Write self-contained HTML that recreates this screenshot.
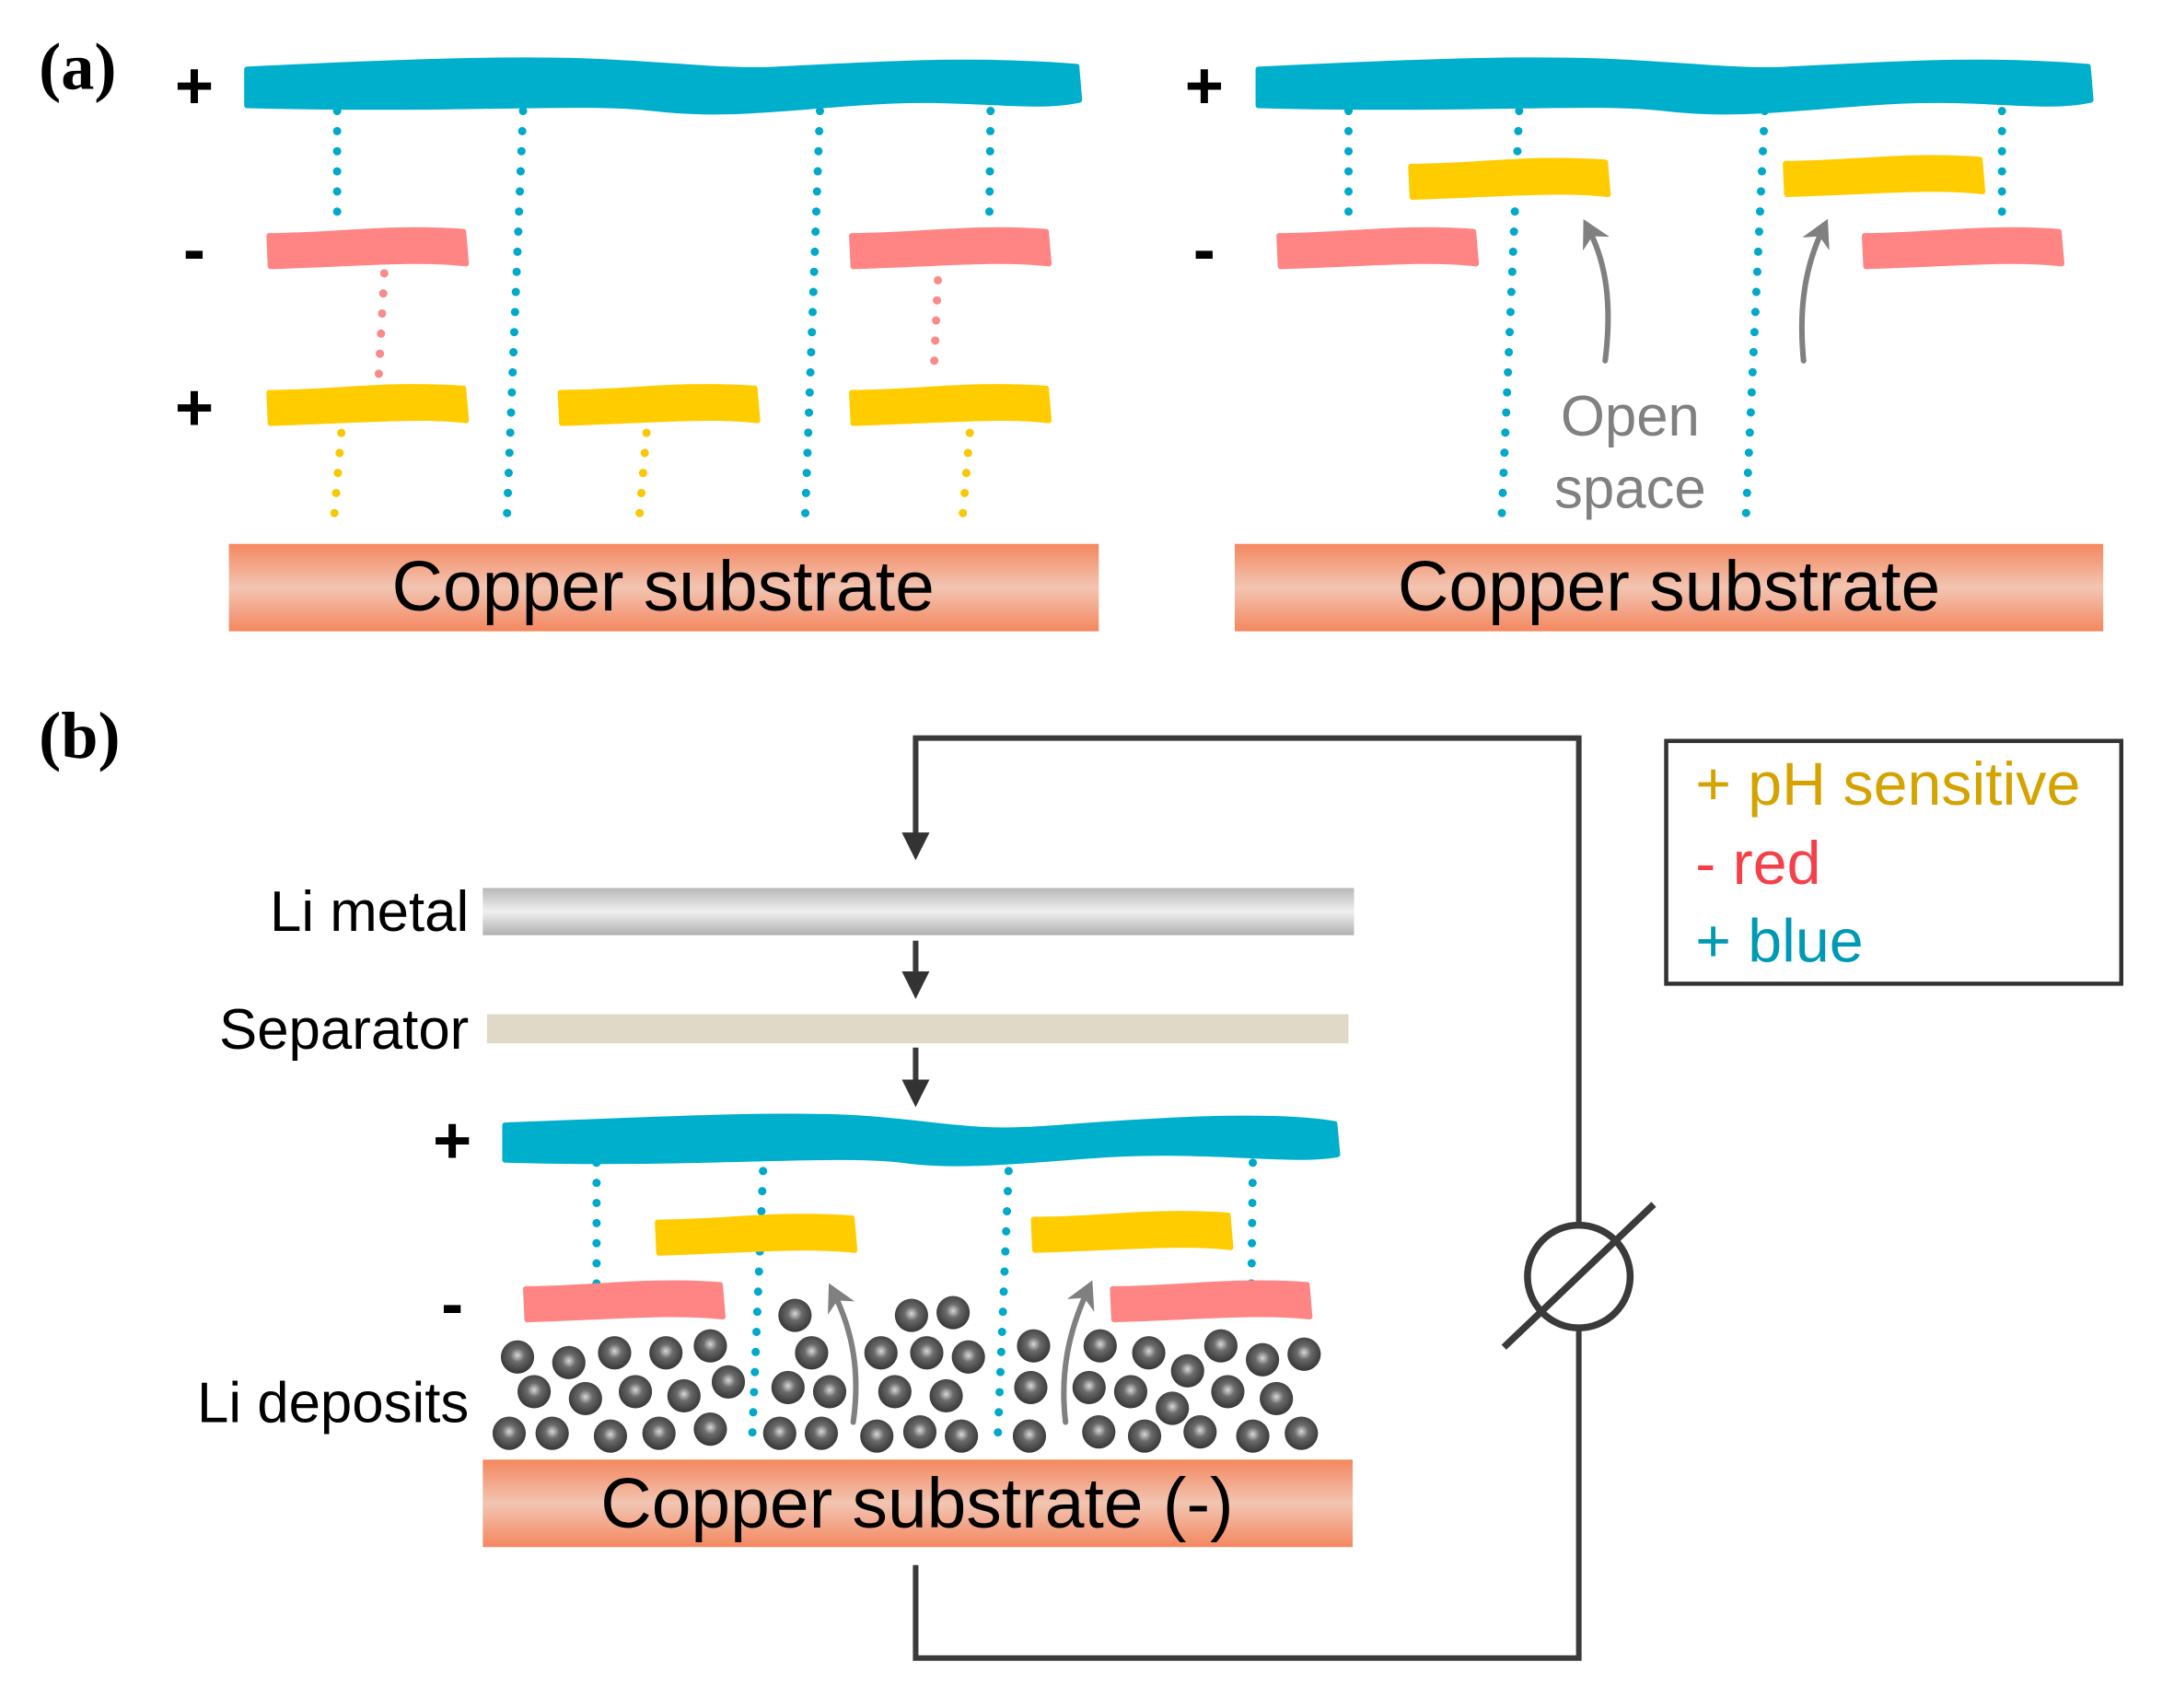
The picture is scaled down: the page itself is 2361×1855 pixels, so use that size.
<!DOCTYPE html>
<html><head><meta charset="utf-8"><style>
html,body{margin:0;padding:0;background:#fff}
svg{display:block}
text{font-family:"Liberation Sans",sans-serif}
</style></head><body>
<svg width="2361" height="1855" viewBox="0 0 1567 1231" preserveAspectRatio="none" xmlns="http://www.w3.org/2000/svg">
<defs>
<linearGradient id="cu" x1="0" y1="0" x2="0" y2="1">
<stop offset="0" stop-color="#f4875f"/><stop offset="0.5" stop-color="#f2c5b2"/><stop offset="1" stop-color="#f4875f"/>
</linearGradient>
<linearGradient id="li" x1="0" y1="0" x2="0" y2="1">
<stop offset="0" stop-color="#b8b8b8"/><stop offset="0.5" stop-color="#f0f0f0"/><stop offset="1" stop-color="#b0b0b0"/>
</linearGradient>
<radialGradient id="ball" cx="0.5" cy="0.45" r="0.6">
<stop offset="0" stop-color="#d8d8d8"/><stop offset="0.35" stop-color="#6a6a6a"/><stop offset="1" stop-color="#2e2e2e"/>
</radialGradient>
<marker id="ah" markerWidth="6" markerHeight="6" refX="3" refY="3" orient="auto" markerUnits="strokeWidth">
<path d="M0,0.5 L5,3 L0,5.5 Z" fill="#333"/></marker>
<marker id="gh" markerWidth="6" markerHeight="6" refX="3" refY="3" orient="auto" markerUnits="strokeWidth">
<path d="M0,0.3 L5,3 L0,5.7 L1.5,3 Z" fill="#808080"/></marker>
</defs>

<text x="28" y="64" font-weight="bold" font-size="48" style="font-family:'Liberation Serif',serif">(a)</text>
<text x="28" y="546" font-weight="bold" font-size="48" style="font-family:'Liberation Serif',serif">(b)</text>

<g font-size="48" font-weight="bold" fill="#000" text-anchor="middle">
<text x="140" y="78">+</text><text x="140" y="196">-</text><text x="140" y="310">+</text>
<text x="868" y="78">+</text><text x="868" y="196">-</text>
<text x="326" y="838">+</text><text x="326" y="956">-</text>
</g>

<g fill="none" stroke-width="6" stroke-linecap="round" stroke-dasharray="0 14.5">
<g stroke="#00a9c9">
<path d="M243,80 L243,165"/><path d="M377,80 L365,382"/><path d="M591,80 L580,382"/><path d="M714,80 L713,165"/>
<path d="M972,80 L972,165"/><path d="M1095,80 L1082,382"/><path d="M1272,80 L1258,382"/><path d="M1443,80 L1443,165"/>
<path d="M430,838 L430,928"/><path d="M550,844 L542,1040"/><path d="M727,844 L719,1040"/><path d="M903,838 L902,928"/>
</g>
<g stroke="#f98a8a"><path d="M277,197 L273,270"/><path d="M676,202 L673,270"/></g>
<g stroke="#f8c800"><path d="M246,312 L240,382"/><path d="M466,312 L460,382"/><path d="M699,312 L693,382"/></g>
</g>

<g fill="#00afcb" stroke="#00afcb" stroke-width="4" stroke-linejoin="round">
<path d="M178,50 C280,45 360,42 420,44 C480,46 520,52 560,50 C640,46 700,42 776,48 L778,72 C740,80 700,68 620,74 C560,78 520,84 470,78 C420,72 330,80 178,76 Z"/>
<path d="M907,50 C1009,45 1089,42 1149,44 C1209,46 1249,52 1289,50 C1369,46 1429,42 1505,48 L1507,72 C1469,80 1429,68 1349,74 C1289,78 1249,84 1199,78 C1149,72 1059,80 907,76 Z"/>
<path d="M364,811 C450,808 560,802 620,806 C680,810 700,818 760,813 C850,806 920,803 962,810 L964,832 C930,838 880,828 800,832 C740,836 690,842 650,836 C600,830 500,840 364,836 Z"/>
</g>

<g stroke-width="4" stroke-linejoin="round">
<g fill="#ff8585" stroke="#ff8585">
<path d="M194,170 C240,170 280,163 334,167 L336,190 C300,186 260,190 195,192 Z"/>
<path d="M614,170 C660,170 700,163 754,167 L756,190 C720,186 680,190 615,192 Z"/>
<path d="M922,170 C968,170 1008,163 1062,167 L1064,190 C1028,186 988,190 923,192 Z"/>
<path d="M1344,170 C1390,170 1430,163 1484,167 L1486,190 C1450,186 1410,190 1345,192 Z"/>
<path d="M379,929 C425,929 465,922 519,926 L521,949 C485,945 445,949 380,951 Z"/>
<path d="M802,929 C848,929 888,922 942,926 L944,949 C908,945 868,949 803,951 Z"/>
</g>
<g fill="#ffcc00" stroke="#ffcc00">
<path d="M194,283 C240,283 280,276 334,280 L336,303 C300,299 260,303 195,305 Z"/>
<path d="M404,283 C450,283 490,276 544,280 L546,303 C510,299 470,303 405,305 Z"/>
<path d="M614,283 C660,283 700,276 754,280 L756,303 C720,299 680,303 615,305 Z"/>
<path d="M1017,120 C1063,120 1103,113 1157,117 L1159,140 C1123,136 1083,140 1018,142 Z"/>
<path d="M1287,118 C1333,118 1373,111 1427,115 L1429,138 C1393,134 1353,138 1288,140 Z"/>
<path d="M474,881 C520,881 560,874 614,878 L616,901 C580,897 540,901 475,903 Z"/>
<path d="M745,879 C791,879 831,872 885,876 L887,899 C851,895 811,899 746,901 Z"/>
</g>
</g>

<rect x="165" y="392" width="627" height="63" fill="url(#cu)"/>
<rect x="890" y="392" width="626" height="63" fill="url(#cu)"/>
<rect x="348" y="1052" width="627" height="63" fill="url(#cu)"/>
<g font-size="51" text-anchor="middle" fill="#000">
<text x="478" y="440">Copper substrate</text>
<text x="1203" y="440">Copper substrate</text>
<text x="661" y="1101">Copper substrate (-)</text>
</g>

<g fill="none" stroke="#808080" stroke-width="4" stroke-linecap="round">
<path d="M1157,260 C1162,220 1158,190 1145,165" marker-end="url(#gh)"/>
<path d="M1300,260 C1296,220 1302,190 1314,165" marker-end="url(#gh)"/>
<path d="M615,1025 C620,990 615,960 601,932" marker-end="url(#gh)"/>
<path d="M768,1025 C764,990 770,960 784,930" marker-end="url(#gh)"/>
</g>
<g font-size="41" fill="#808080" text-anchor="middle">
<text x="1175" y="314">Open</text><text x="1175" y="366">space</text>
</g>

<rect x="348" y="640" width="628" height="34" fill="url(#li)"/>
<rect x="351" y="731" width="621" height="21" fill="#e0d9c8"/>
<g font-size="41" fill="#000" text-anchor="end">
<text x="338" y="671">Li metal</text>
<text x="338" y="756">Separator</text>
<text x="338" y="1025">Li deposits</text>
</g>

<g fill="none" stroke="#3a3a3a" stroke-width="4">
<path d="M660,1128 L660,1195 L1138,1195 L1138,958"/>
<path d="M1138,882 L1138,532 L660,532 L660,612" marker-end="url(#ah)"/>
<path d="M660,678 L660,712" marker-end="url(#ah)"/>
<path d="M660,755 L660,790" marker-end="url(#ah)"/>
<circle cx="1138" cy="920" r="37" stroke-width="5"/>
<path d="M1084,971 L1192,868" stroke-width="5"/>
</g>

<rect x="1201" y="534" width="328" height="175" fill="#fff" stroke="#333" stroke-width="3"/>
<g font-size="44">
<text x="1222" y="580" fill="#d4a300">+ pH sensitive</text>
<text x="1222" y="637" fill="#f5404a">- red</text>
<text x="1222" y="693" fill="#0099b5">+ blue</text>
</g>

<g fill="url(#ball)">
<circle cx="573" cy="948" r="12"/><circle cx="657" cy="948" r="12"/><circle cx="687" cy="946" r="12"/>
<circle cx="373" cy="978" r="12"/><circle cx="410" cy="982" r="12"/><circle cx="443" cy="975" r="12"/><circle cx="480" cy="975" r="12"/><circle cx="512" cy="970" r="12"/>
<circle cx="585" cy="975" r="12"/><circle cx="635" cy="975" r="12"/><circle cx="668" cy="975" r="12"/><circle cx="698" cy="978" r="12"/>
<circle cx="745" cy="970" r="12"/><circle cx="793" cy="970" r="12"/><circle cx="828" cy="975" r="12"/><circle cx="880" cy="970" r="12"/><circle cx="910" cy="980" r="12"/><circle cx="940" cy="976" r="12"/>
<circle cx="856" cy="988" r="12"/>
<circle cx="385" cy="1003" r="12"/><circle cx="422" cy="1008" r="12"/><circle cx="458" cy="1003" r="12"/><circle cx="493" cy="1006" r="12"/><circle cx="525" cy="996" r="12"/>
<circle cx="568" cy="1000" r="12"/><circle cx="598" cy="1003" r="12"/><circle cx="645" cy="1003" r="12"/><circle cx="682" cy="1006" r="12"/>
<circle cx="743" cy="1000" r="12"/><circle cx="785" cy="1000" r="12"/><circle cx="815" cy="1003" r="12"/><circle cx="845" cy="1015" r="12"/><circle cx="885" cy="1003" r="12"/><circle cx="920" cy="1008" r="12"/>
<circle cx="367" cy="1033" r="12"/><circle cx="398" cy="1033" r="12"/><circle cx="440" cy="1035" r="12"/><circle cx="475" cy="1033" r="12"/><circle cx="512" cy="1030" r="12"/>
<circle cx="562" cy="1033" r="12"/><circle cx="592" cy="1033" r="12"/><circle cx="632" cy="1035" r="12"/><circle cx="663" cy="1032" r="12"/><circle cx="693" cy="1035" r="12"/>
<circle cx="742" cy="1035" r="12"/><circle cx="792" cy="1032" r="12"/><circle cx="825" cy="1035" r="12"/><circle cx="865" cy="1032" r="12"/><circle cx="903" cy="1035" r="12"/><circle cx="938" cy="1033" r="12"/>
</g>
</svg>
</body></html>
